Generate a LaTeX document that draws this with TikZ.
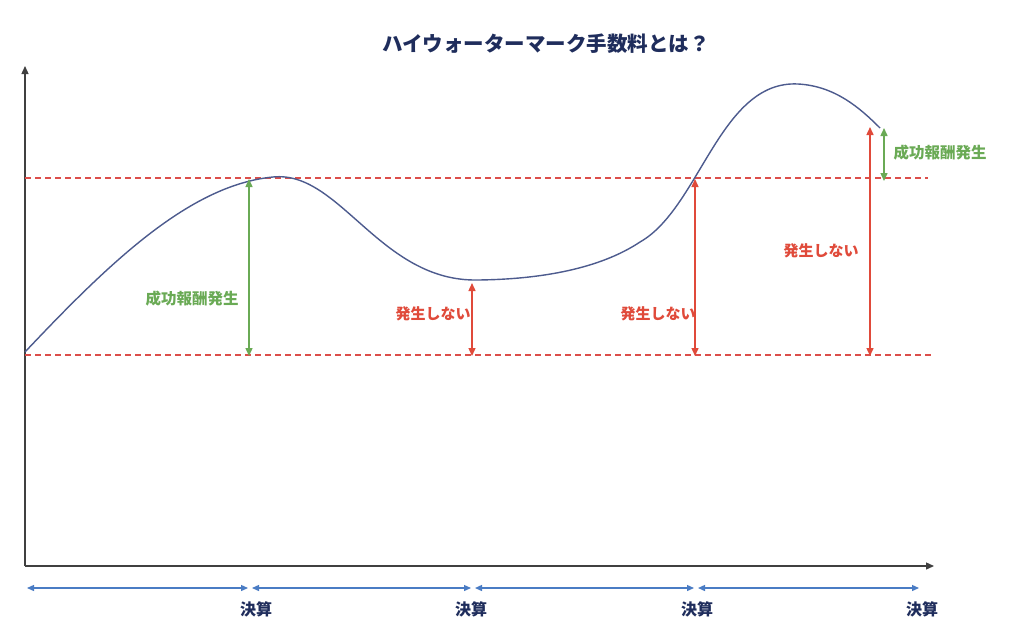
\documentclass[tikz,border=0pt]{standalone}
\usepackage{fontspec}
\newfontfamily\jpf{Noto Sans CJK JP}
\newcommand{\jp}{\jpf\bfseries}
\usetikzlibrary{arrows.meta}
\definecolor{navy}{HTML}{1F2D5C}
\definecolor{curveblue}{HTML}{4D5B8E}
\definecolor{fgreen}{HTML}{6AAA55}
\definecolor{fred}{HTML}{E04A3A}
\definecolor{tblue}{HTML}{4A7CC4}
\definecolor{dred}{HTML}{DC4E4A}
\tikzset{
  axis/.style={draw=black!75, line width=1.3pt, -{Triangle[length=8pt,width=7pt]}},
  hline/.style={draw=dred, line width=1.1pt, dash pattern=on 6pt off 4pt},
  garrow/.style={draw=fgreen, line width=1.4pt, {Triangle[length=8pt,width=7pt]}-{Triangle[length=8pt,width=7pt]}},
  rarrow/.style={draw=fred, line width=1.4pt, {Triangle[length=8pt,width=7pt]}-{Triangle[length=8pt,width=7pt]}},
  tarrow/.style={draw=tblue, line width=1.3pt, {Triangle[length=7pt,width=6pt]}-{Triangle[length=7pt,width=6pt]}},
  glabel/.style={font=\jp\fontsize{15.5}{17}\selectfont, text=fgreen, inner sep=0pt},
  rlabel/.style={font=\jp\fontsize{15}{17}\selectfont, text=fred, inner sep=0pt},
  klabel/.style={font=\jp\fontsize{16}{18}\selectfont, text=navy, inner sep=0pt},
}
\begin{document}
\begin{tikzpicture}[x=1pt,y=-1pt]
\useasboundingbox[fill=white] (0,0) rectangle (1024,629);
% title
\node[font=\jp\fontsize{20.5}{24}\selectfont, text=navy, inner sep=0pt] (title) at (546,44) {ハイウォーターマーク手数料とは？};
% axes
\coordinate (o) at (25,566);
\coordinate (ytop) at (25,66);
\coordinate (xend) at (934,566);
\draw[axis] (o) -- (ytop);
\draw[axis] (o) -- (xend);
% dashed levels
\coordinate (h1a) at (25,178); \coordinate (h1b) at (928,178);
\coordinate (h2a) at (25,355); \coordinate (h2b) at (932,355);
\draw[hline] (h1a) -- (h1b);
\draw[hline] (h2a) -- (h2b);
% curve
\coordinate (c0) at (25,352);
\coordinate (p1) at (273,177);
\coordinate (m1) at (478,280);
\coordinate (k1) at (640,242);
\coordinate (p2) at (798,84);
\coordinate (c1) at (880,128);
\draw[curveblue, line width=1.4pt]
  (c0) .. controls (110,262) and (190,185) .. (p1)
       .. controls (340,170) and (380,282) .. (m1)
       .. controls (560,279) and (610,262) .. (k1)
       .. controls (700,208) and (720,80) .. (p2)
       .. controls (835,86) and (860,108) .. (c1);
% vertical arrows
\coordinate (a1t) at (249,179); \coordinate (a1b) at (249,356);
\draw[garrow] (a1t) -- (a1b);
\node[glabel] (l1) at (192,299) {成功報酬発生};
\coordinate (a2t) at (472,283); \coordinate (a2b) at (472,356);
\draw[rarrow] (a2t) -- (a2b);
\node[rlabel] (l2) at (433,314) {発生しない};
\coordinate (a3t) at (695,179); \coordinate (a3b) at (695,356);
\draw[rarrow] (a3t) -- (a3b);
\node[rlabel] (l3) at (658,314) {発生しない};
\coordinate (a4t) at (870,127); \coordinate (a4b) at (870,356);
\draw[rarrow] (a4t) -- (a4b);
\node[rlabel] (l4) at (821,251) {発生しない};
\coordinate (a5t) at (884,128); \coordinate (a5b) at (884,181);
\draw[garrow] (a5t) -- (a5b);
\node[glabel] (l5) at (940,153) {成功報酬発生};
% timeline
\coordinate (t0) at (27,588); \coordinate (t1a) at (248,588);
\coordinate (t1b) at (252,588); \coordinate (t2a) at (471,588);
\coordinate (t2b) at (475,588); \coordinate (t3a) at (694,588);
\coordinate (t3b) at (698,588); \coordinate (t4) at (919,588);
\draw[tarrow] (t0) -- (t1a);
\draw[tarrow] (t1b) -- (t2a);
\draw[tarrow] (t2b) -- (t3a);
\draw[tarrow] (t3b) -- (t4);
\node[klabel] (k1) at (256,609) {決算};
\node[klabel] (k2) at (471,609) {決算};
\node[klabel] (k3) at (697,609) {決算};
\node[klabel] (k4) at (922,609) {決算};
\end{tikzpicture}
\end{document}
